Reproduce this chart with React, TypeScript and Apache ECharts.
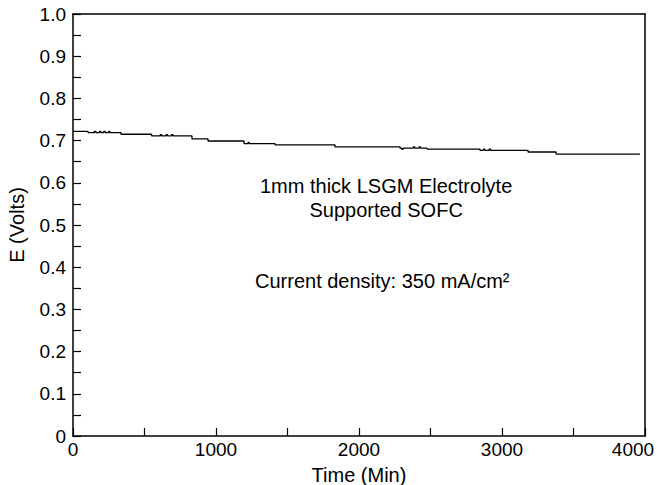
import React, { useEffect, useRef } from "react";
import * as echarts from "echarts";

const times = [
  0, 105, 150, 160, 185, 195, 215, 225, 250, 258, 336, 550, 610, 620, 650, 660, 690, 700, 832, 944, 1196,
  1224, 1232, 1413, 1832, 2287, 2300, 2308, 2380, 2390, 2420, 2430, 2476, 2846, 2870, 2880, 2910, 2920, 3182,
  3378, 3965,
];
const volts = [
  0.722, 0.719, 0.722, 0.719, 0.722, 0.719, 0.722, 0.719, 0.722, 0.719, 0.715, 0.711, 0.714, 0.711, 0.714,
  0.711, 0.714, 0.711, 0.704, 0.699, 0.693, 0.696, 0.693, 0.69, 0.685, 0.682, 0.679, 0.682, 0.685, 0.682,
  0.685, 0.682, 0.68, 0.677, 0.68, 0.677, 0.68, 0.677, 0.673, 0.668, 0.668,
];

const xTickLabels = ["0", "1000", "2000", "3000", "4000"];
const yTickLabels = ["0", "0.1", "0.2", "0.3", "0.4", "0.5", "0.6", "0.7", "0.8", "0.9", "1.0"];

const annotation1 = "1mm thick LSGM Electrolyte\nSupported SOFC";
const annotation2 = "Current density: 350 mA/cm²";

const FONT = "Liberation Sans, Arial, Helvetica, sans-serif";

export default function App() {
  const ref = useRef<HTMLDivElement>(null);
  useEffect(() => {
    if (!ref.current) return;
    const chart = echarts.init(ref.current, null, { renderer: "svg" });
    const data = times.map((t, i) => [t, volts[i]]);
    const axisLine = { show: true, onZero: false, lineStyle: { color: "#000", width: 1.5 } };
    chart.setOption({
      animation: false,
      backgroundColor: "#fff",
      textStyle: { fontFamily: FONT },
      grid: { left: 73, right: 12, top: 14, bottom: 49, containLabel: false, outerBoundsMode: "none" },
      xAxis: [
        {
          type: "value",
          min: 0,
          max: 4000,
          interval: 500,
          axisLine,
          axisTick: { show: true, inside: true, length: 8, lineStyle: { color: "#000", width: 1.2 } },
          splitLine: { show: false },
          axisLabel: {
            color: "#000",
            fontSize: 19,
            fontFamily: FONT,
            margin: 4,
            rich: {
              e: { fontSize: 19, fontFamily: FONT, color: "#000", padding: [0, 24, 0, 0] },
            },
            formatter: (v: number) => {
              const s = String(Math.round(v));
              const idx = xTickLabels.indexOf(s);
              if (idx < 0) return "";
              return idx === xTickLabels.length - 1 ? `{e|${s}}` : s;
            },
          },
          name: "Time (Min)",
          nameLocation: "middle",
          nameGap: 29,
          nameTextStyle: { color: "#000", fontSize: 20, fontFamily: FONT },
        },
        {
          type: "value",
          position: "top",
          min: 0,
          max: 4000,
          axisLine,
          axisTick: { show: false },
          axisLabel: { show: false },
          splitLine: { show: false },
        },
      ],
      yAxis: [
        {
          type: "value",
          min: 0,
          max: 1,
          interval: 0.05,
          axisLine,
          axisTick: { show: true, inside: true, length: 8, lineStyle: { color: "#000", width: 1.2 } },
          splitLine: { show: false },
          axisLabel: {
            color: "#000",
            fontSize: 19,
            fontFamily: FONT,
            margin: 7,
            formatter: (v: number) => {
              const k = Math.round(v * 100);
              if (k % 10 !== 0) return "";
              return yTickLabels[k / 10];
            },
          },
          name: "E (Volts)",
          nameLocation: "middle",
          nameGap: 46,
          nameRotate: 90,
          nameTextStyle: { color: "#000", fontSize: 20, fontFamily: FONT },
        },
        {
          type: "value",
          position: "right",
          min: 0,
          max: 1,
          axisLine,
          axisTick: { show: false },
          axisLabel: { show: false },
          splitLine: { show: false },
        },
      ],
      series: [
        {
          type: "line",
          step: "end",
          data,
          symbol: "none",
          lineStyle: { color: "#000", width: 1.3 },
        },
      ],
      graphic: [
        {
          type: "text",
          left: 410 - 150,
          top: 174,
          style: {
            text: annotation1,
            x: 150,
            textAlign: "center",
            fill: "#000",
            font: `20px ${FONT}`,
            lineHeight: 24,
          },
        },
        {
          type: "text",
          left: 405 - 150,
          top: 271,
          style: {
            text: annotation2,
            x: 150,
            textAlign: "center",
            fill: "#000",
            font: `20px ${FONT}`,
          },
        },
      ],
    });
    return () => chart.dispose();
  }, []);
  return <div ref={ref} style={{ width: 657, height: 485, position: "absolute", left: 0, top: 0 }} />;
}
